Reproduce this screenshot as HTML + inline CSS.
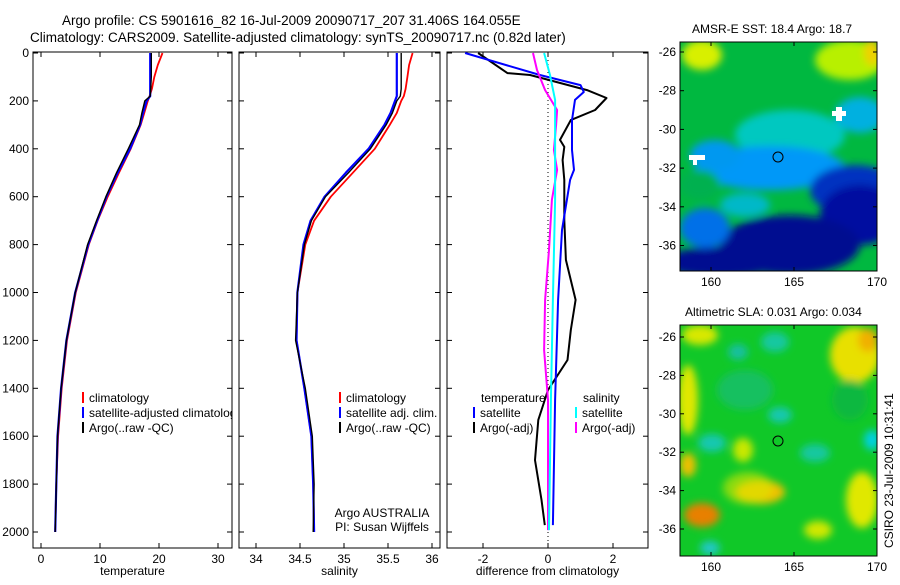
<!DOCTYPE html>
<html><head><meta charset="utf-8"><style>
body{margin:0;background:#fff}
svg text{font-family:"Liberation Sans",sans-serif;font-size:12px;fill:#000}
</style></head><body>
<svg id="chart" width="900" height="580" xmlns="http://www.w3.org/2000/svg">
<defs>
<filter id="blur1" x="-20%" y="-20%" width="140%" height="140%"><feGaussianBlur stdDeviation="4"/></filter>
<clipPath id="clipm1"><rect x="680" y="42" width="197" height="229"/></clipPath>
<clipPath id="clipm2"><rect x="680" y="325" width="197" height="231"/></clipPath>
<clipPath id="clipp1"><rect x="33" y="52" width="199" height="496"/></clipPath>
</defs>
<text x="62" y="25" style="font-size:13.5px">Argo profile: CS 5901616_82 16-Jul-2009 20090717_207 31.406S 164.055E</text>
<text x="30" y="42" style="font-size:13.5px">Climatology: CARS2009. Satellite-adjusted climatology: synTS_20090717.nc (0.82d later)</text>

<g clip-path="url(#clipm1)">
<rect x="680" y="42" width="197" height="229" fill="#00b840"/>
<g filter="url(#blur1)">
<ellipse cx="702" cy="55" rx="20" ry="15" fill="#d8f000"/>
<ellipse cx="850" cy="60" rx="35" ry="20" fill="#b8f000"/>
<ellipse cx="872" cy="52" rx="8" ry="14" fill="#f0d000"/>
<ellipse cx="790" cy="135" rx="55" ry="25" fill="#00c8c0"/>
<ellipse cx="860" cy="115" rx="25" ry="18" fill="#00b0e0"/>
<ellipse cx="770" cy="168" rx="75" ry="22" fill="#0098f8"/>
<ellipse cx="715" cy="155" rx="25" ry="15" fill="#0098f0"/>
<ellipse cx="855" cy="190" rx="45" ry="25" fill="#0030c0"/>
<ellipse cx="860" cy="215" rx="40" ry="30" fill="#000aa0"/>
<ellipse cx="790" cy="245" rx="70" ry="30" fill="#000890"/>
<ellipse cx="720" cy="262" rx="60" ry="15" fill="#000890"/>
<ellipse cx="705" cy="228" rx="25" ry="20" fill="#0070e8"/>
<ellipse cx="745" cy="205" rx="25" ry="12" fill="#00b8c8"/>
<ellipse cx="700" cy="185" rx="20" ry="15" fill="#00b050"/>
</g>
<rect x="836" y="107" width="6" height="14" fill="#fff"/><rect x="832" y="111" width="14" height="5" fill="#fff"/>
<rect x="689" y="155" width="16" height="5" fill="#fff"/><rect x="693" y="155" width="4" height="10" fill="#fff"/>
<circle cx="778" cy="157" r="5" fill="none" stroke="#000"/>
</g>
<rect x="680" y="42" width="197" height="229" fill="none" stroke="#000"/>
<text x="692" y="33">AMSR-E SST: 18.4  Argo: 18.7</text>

<g clip-path="url(#clipm2)">
<rect x="680" y="325" width="197" height="231" fill="#10c828"/>
<g filter="url(#blur1)">
<ellipse cx="700" cy="335" rx="18" ry="10" fill="#d8e800"/>
<ellipse cx="855" cy="355" rx="25" ry="28" fill="#e8e000"/>
<ellipse cx="868" cy="340" rx="10" ry="12" fill="#f0b000"/>
<ellipse cx="688" cy="400" rx="10" ry="35" fill="#e0e800"/>
<ellipse cx="688" cy="465" rx="8" ry="12" fill="#f0c000"/>
<ellipse cx="745" cy="390" rx="28" ry="20" fill="#18c060"/>
<ellipse cx="775" cy="342" rx="14" ry="10" fill="#18c8a0"/>
<ellipse cx="738" cy="352" rx="10" ry="8" fill="#18c0a0"/>
<ellipse cx="780" cy="415" rx="12" ry="8" fill="#18c8b0"/>
<ellipse cx="712" cy="443" rx="14" ry="9" fill="#18c8b0"/>
<ellipse cx="815" cy="453" rx="15" ry="9" fill="#18c8a0"/>
<ellipse cx="872" cy="440" rx="8" ry="10" fill="#00d0e0"/>
<ellipse cx="760" cy="492" rx="25" ry="12" fill="#f0c000"/>
<ellipse cx="748" cy="488" rx="25" ry="16" fill="#d8e800" opacity="0.6"/>
<ellipse cx="702" cy="515" rx="18" ry="12" fill="#e88000"/>
<ellipse cx="862" cy="500" rx="16" ry="28" fill="#e0e800"/>
<ellipse cx="818" cy="530" rx="14" ry="9" fill="#d0e800"/>
<ellipse cx="710" cy="548" rx="10" ry="7" fill="#20c8c8"/>
<ellipse cx="743" cy="450" rx="10" ry="12" fill="#c8e800"/>
<ellipse cx="850" cy="400" rx="18" ry="20" fill="#10b840"/>
</g>
<circle cx="778" cy="441" r="5" fill="none" stroke="#000"/>
</g>
<rect x="680" y="325" width="197" height="231" fill="none" stroke="#000"/>
<text x="685" y="316">Altimetric SLA: 0.031  Argo: 0.034</text>
<text transform="translate(893,548) rotate(-90)">CSIRO 23-Jul-2009 10:31:41</text>

<g id="plots"></g>
</svg>
<script>
// ===== data =====
const depthTicks = [0,200,400,600,800,1000,1200,1400,1600,1800,2000];
const tempTicks = [0,10,20,30];
const salTicks = [34,34.5,35,35.5,36];
const diffTicks = [-2,0,2];
const mapLonTicks = [160,165,170];
const map1LatTicks = [-26,-28,-30,-32,-34,-36];
const map2LatTicks = [-26,-28,-30,-32,-34,-36];

const profDepth = [0,50,100,150,180,200,250,300,400,500,600,700,800,1000,1200,1400,1600,1800,2000];
const tempClim  = [20.6,19.8,19.2,18.8,18.4,18.1,17.5,16.9,15.2,13.2,11.3,9.6,8.1,5.9,4.4,3.5,2.9,2.6,2.4];
const tempSat   = [18.5,18.5,18.5,18.5,18.5,17.9,17.3,16.8,15.1,13.0,11.1,9.5,8.0,5.8,4.3,3.4,2.8,2.6,2.4];
const tempArgo  = [18.7,18.7,18.7,18.6,18.5,17.6,17.1,16.7,14.8,12.8,11.0,9.4,7.9,5.8,4.3,3.4,2.8,2.6,2.4];
const salClim   = [35.78,35.74,35.72,35.70,35.68,35.65,35.6,35.52,35.35,35.1,34.85,34.66,34.56,34.47,34.46,34.55,34.63,34.65,34.66];
const salSat    = [35.6,35.6,35.6,35.6,35.6,35.58,35.53,35.46,35.28,35.02,34.78,34.62,34.54,34.47,34.46,34.55,34.63,34.65,34.66];
const salArgo   = [35.65,35.65,35.65,35.65,35.64,35.6,35.55,35.48,35.3,35.05,34.79,34.63,34.55,34.47,34.45,34.56,34.64,34.66,34.65];

const diffDepthArgoT = [0,84,92,155,188,238,280,363,392,447,530,697,864,1031,1157,1282,1407,1532,1700,1866,1971];
const diffArgoT      = [-2.15,-1.25,-0.55,1.2,1.8,1.45,0.7,0.37,0.5,0.45,0.5,0.5,0.55,0.85,0.7,0.6,0.0,-0.3,-0.4,-0.2,-0.1];
const diffDepthSatT  = [0,92,134,163,196,280,405,488,530,613,739,1031,1449,1971];
const diffSatT       = [-2.55,-0.25,1.0,1.1,0.83,0.74,0.74,0.8,0.68,0.58,0.43,0.31,0.22,0.15];
const diffDepthSatS  = [0,92,196,613,1031,1449,1992];
const diffSatS       = [-0.12,0.06,0.22,0.22,0.15,0.09,0.03];
const diffDepthArgoS = [0,71,155,238,301,405,488,613,822,1031,1240,1449,1992];
const diffArgoS      = [-0.46,-0.34,-0.09,0.28,0.25,0.18,0.28,0.12,0.03,-0.09,-0.12,0.0,0.0];

// ===== axes =====
const Y0=52, Y1=548;
const yD = d => 53 + d*0.2395;
const NS="http://www.w3.org/2000/svg";
const root=document.getElementById('plots');
function el(tag,attrs,parent){const e=document.createElementNS(NS,tag);for(const k in attrs)e.setAttribute(k,attrs[k]);(parent||root).appendChild(e);return e;}
function path(xs,ds,sx,col,w,name,g){
  let d='';for(let i=0;i<xs.length;i++)d+=(i?'L':'M')+sx(xs[i]).toFixed(1)+','+yD(ds[i]).toFixed(1);
  const p=el('path',{d:d,fill:'none',stroke:col,'stroke-width':w,'stroke-linejoin':'round'},g);
  
  
}
function panel(x0,x1,name,sx,ticks,label,showY){
  const g=el('g',{});
  
  
  el('rect',{x:x0,y:Y0,width:x1-x0,height:Y1-Y0,fill:'#fff',stroke:'#000'},g);
  ticks.forEach(t=>{const x=sx(t);
    el('line',{x1:x,x2:x,y1:Y1,y2:Y1-5,stroke:'#000'},g);el('line',{x1:x,x2:x,y1:Y0,y2:Y0+5,stroke:'#000'},g);
    const tx=el('text',{x:x,y:Y1+15,'text-anchor':'middle'},g);tx.textContent=t;
    
    
  });
  depthTicks.forEach(d=>{const y=yD(d);
    el('line',{x1:x0,x2:x0+5,y1:y,y2:y,stroke:'#000'},g);el('line',{x1:x1,x2:x1-5,y1:y,y2:y,stroke:'#000'},g);
    if(showY){const tx=el('text',{x:x0-4,y:y+4,'text-anchor':'end'},g);tx.textContent=d;
      
      }
  });
  const lb=el('text',{x:(x0+x1)/2,y:575,'text-anchor':'middle'},g);lb.textContent=label;
  
  
  return g;
}
function legend(g,x,y,items){
  items.forEach((it,i)=>{const yy=y+i*15;
    el('line',{x1:x,x2:x,y1:yy-10,y2:yy+1,stroke:it[0],'stroke-width':2},g);
    const t=el('text',{x:x+6,y:yy},g);t.textContent=it[1];
    
    
  });
}
// panel 1
const sxT=v=>41+v*5.9;
const g1=panel(33,232,'temperature-panel',sxT,tempTicks,'temperature',true);
path(tempClim,profDepth,sxT,'#f00',1.8,'temp-climatology-line',g1);
path(tempSat,profDepth,sxT,'#00f',2.2,'temp-satellite-line',g1);
path(tempArgo,profDepth,sxT,'#000',1.4,'temp-argo-line',g1);
const lg1=el('g',{'clip-path':'url(#clipp1)'},g1);
legend(lg1,83,402,[['#f00','climatology'],['#00f','satellite-adjusted climatology'],['#000','Argo(..raw -QC)']]);
// panel 2
const sxS=v=>256+(v-34)*88;
const g2=panel(239,440,'salinity-panel',sxS,salTicks,'salinity',false);
path(salClim,profDepth,sxS,'#f00',1.8,'sal-climatology-line',g2);
path(salSat,profDepth,sxS,'#00f',2.2,'sal-satellite-line',g2);
path(salArgo,profDepth,sxS,'#000',1.4,'sal-argo-line',g2);
legend(g2,340,402,[['#f00','climatology'],['#00f','satellite adj. clim.'],['#000','Argo(..raw -QC)']]);
const a1=el('text',{x:382,y:517,'text-anchor':'middle'},g2);a1.textContent='Argo AUSTRALIA';


const a2=el('text',{x:382,y:531,'text-anchor':'middle'},g2);a2.textContent='PI: Susan Wijffels';


// panel 3
const sxD=v=>548+v*32.5;
const g3=panel(447,648,'difference-panel',sxD,diffTicks,'difference from climatology',false);
el('line',{x1:548,x2:548,y1:Y0,y2:Y1,stroke:'#000','stroke-dasharray':'1,3'},g3);
path(diffArgoT,diffDepthArgoT,sxD,'#000',2,'diff-argo-temp-line',g3);
path(diffSatT,diffDepthSatT,sxD,'#00f',2,'diff-satellite-temp-line',g3);
path(diffArgoS,diffDepthArgoS,sxD,'#f0f',2,'diff-argo-sal-line',g3);
path(diffSatS,diffDepthSatS,sxD,'#0ff',2,'diff-satellite-sal-line',g3);
const lt=el('text',{x:481,y:402},g3);lt.textContent='temperature';


const ls=el('text',{x:583,y:402},g3);ls.textContent='salinity';


legend(g3,474,417,[['#00f','satellite'],['#000','Argo(-adj)']]);
legend(g3,576,417,[['#0ff','satellite'],['#f0f','Argo(-adj)']]);
// map ticks
function mapAxes(yTop,yBot,lat0y,latStep,lats,showX,name){
  const g=el('g',{});
  
  
  mapLonTicks.forEach(l=>{const x=711+(l-160)*16.6;
    el('line',{x1:x,x2:x,y1:yBot,y2:yBot-4,stroke:'#000'},g);el('line',{x1:x,x2:x,y1:yTop,y2:yTop+4,stroke:'#000'},g);
    const t=el('text',{x:x,y:yBot+15,'text-anchor':'middle'},g);t.textContent=l;
    
    
  });
  lats.forEach((l,i)=>{const y=lat0y+(-26-l)/2*latStep;
    el('line',{x1:680,x2:684,y1:y,y2:y,stroke:'#000'},g);el('line',{x1:877,x2:873,y1:y,y2:y,stroke:'#000'},g);
    const t=el('text',{x:676,y:y+4,'text-anchor':'end'},g);t.textContent=l;
    
    
  });
}
mapAxes(42,271,52,38.7,map1LatTicks,true,'sst-map-axes');
mapAxes(325,556,337,38.4,map2LatTicks,true,'sla-map-axes');
</script>
</body></html>
